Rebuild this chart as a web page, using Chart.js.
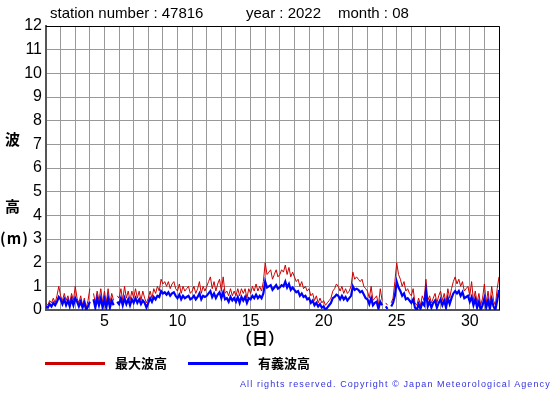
<!DOCTYPE html>
<html>
<head>
<meta charset="utf-8">
<script src="https://cdn.jsdelivr.net/npm/chart.js@4"></script>
<style>
  body { margin:0; background:#fff; }
  #wrap { position:relative; width:555px; height:395px; overflow:hidden; }
  #grafico { position:absolute; left:0; top:0; }
  .t { position:absolute; font-family:"Liberation Sans", Arial, sans-serif; color:#000; white-space:pre; }
  .jp { position:absolute; font-family:"Noto Sans CJK JP", sans-serif; color:#000; font-weight:bold; white-space:pre; }
  .linea { position:absolute; height:3px; }
  .copy { position:absolute; font-family:"Liberation Sans", Arial, sans-serif; font-size:9px; color:#3333dd; letter-spacing:1.1px; white-space:pre; }
</style>
</head>
<body>
<div id="wrap">
  <canvas id="grafico" width="555" height="395"></canvas>
  <div class="t" style="left:50px;top:4px;font-size:15px">station number : 47816</div>
  <div class="t" style="left:246px;top:4px;font-size:15px">year : 2022</div>
  <div class="t" style="left:338px;top:4px;font-size:15px">month : 08</div>
  <div class="jp" style="left:5px;top:128px;font-size:15px">波</div>
  <div class="jp" style="left:5px;top:195px;font-size:15px">高</div>
  <div class="jp" style="left:0px;top:227px;font-size:15px;letter-spacing:1px">(m)</div>
  <div class="jp" style="left:236px;top:325px;font-size:16px">（日）</div>
  <div class="linea" style="left:45px;top:362px;width:60px;background:#cc0000"></div>
  <div class="jp" style="left:115px;top:353px;font-size:13px">最大波高</div>
  <div class="linea" style="left:188px;top:362px;width:60px;background:#0000ff"></div>
  <div class="jp" style="left:258px;top:353px;font-size:13px">有義波高</div>
  <div class="copy" style="left:240px;top:379px">All rights reserved. Copyright © Japan Meteorological Agency</div>
</div>
<script>
// 3時間ごとの値 (8個 / 日), 8/1 00時 から 9/1 00時 まで
const intervaloHoras = 3
const diaInicio = 1
const diaFin = 32

// 最大波高 (m)
const maxWave = [
  0.3,0.2,0.4,0.3,0.5,0.3,0.6,1.0,
  0.6,0.4,0.7,0.4,0.6,0.3,0.7,0.4,
  1.0,0.5,0.3,0.6,0.2,0.5,0.1,0.4,
  0.9,null,0.7,0.3,0.8,0.4,0.9,0.3,
  0.8,0.3,0.9,0.3,0.7,0.4,null,0.6,
  0.5,0.9,0.4,1.0,0.5,0.8,0.4,0.8,
  0.5,0.9,0.5,0.8,0.4,0.8,0.5,0.3,
  0.5,0.8,0.5,0.9,0.7,1.0,0.8,1.3,
  1.1,1.2,1.0,1.2,0.9,1.1,1.2,0.9,
  0.8,1.1,0.7,1.0,0.8,0.9,1.0,0.7,
  0.8,1.0,0.7,0.9,1.2,0.7,1.0,0.8,
  1.0,1.2,1.4,0.9,1.2,0.8,1.1,1.3,
  0.8,1.4,0.7,0.8,0.6,0.9,0.6,0.8,
  0.6,0.9,0.6,0.9,0.7,0.9,0.5,0.9,
  0.7,1.0,0.8,1.1,0.8,1.0,0.8,1.2,
  2.0,1.5,1.6,1.7,1.3,1.5,1.7,1.4,
  1.5,1.7,1.6,1.9,1.5,1.8,1.4,1.6,
  1.4,1.2,1.3,1.0,1.2,0.9,1.0,0.8,
  0.9,0.6,0.7,0.4,0.6,0.3,0.5,0.3,
  0.4,0.2,0.3,0.4,0.5,0.8,0.9,1.1,
  1.0,0.8,1.0,0.7,0.9,0.7,0.8,1.0,
  1.6,1.3,1.4,1.3,1.2,1.3,1.0,0.9,
  0.8,0.5,1.0,0.4,0.5,0.6,0.2,0.9,
  0.4,null,0.3,0.2,null,0.3,0.5,1.2,
  2.0,1.5,1.3,1.0,1.2,0.8,0.9,0.7,
  0.6,0.9,0.3,0.2,0.5,0.2,0.6,0.4,
  1.3,0.4,0.6,0.3,0.5,0.7,0.3,0.6,
  0.8,0.4,0.7,0.3,0.9,0.5,0.9,1.2,
  1.4,1.1,1.3,1.0,1.2,0.8,0.9,1.0,
  0.6,1.2,0.4,0.8,0.3,0.7,0.2,0.5,
  1.1,0.3,0.8,0.2,1.0,0.4,0.2,0.9,
  1.4
]

// 有義波高 (m)
const sigWave = [
  0.15,0.1,0.25,0.15,0.3,0.2,0.35,0.55,
  0.45,0.25,0.45,0.2,0.4,0.15,0.45,0.2,
  0.5,0.35,0.15,0.35,0.1,0.3,0.0,0.15,
  0.35,null,0.45,0.1,0.5,0.2,0.5,0.1,
  0.45,0.1,0.5,0.1,0.4,0.2,null,0.35,
  0.25,0.5,0.2,0.5,0.25,0.45,0.2,0.45,
  0.3,0.5,0.3,0.45,0.25,0.4,0.3,0.1,
  0.3,0.5,0.35,0.55,0.45,0.6,0.55,0.8,
  0.7,0.75,0.65,0.75,0.6,0.7,0.75,0.6,
  0.5,0.65,0.45,0.6,0.5,0.55,0.6,0.45,
  0.5,0.6,0.45,0.55,0.7,0.45,0.6,0.55,
  0.6,0.7,0.8,0.55,0.7,0.5,0.65,0.75,
  0.5,0.75,0.45,0.5,0.35,0.55,0.4,0.5,
  0.35,0.55,0.3,0.55,0.4,0.55,0.3,0.5,
  0.45,0.6,0.5,0.65,0.5,0.6,0.5,0.7,
  1.2,0.95,1.0,1.05,0.85,0.95,1.05,0.9,
  0.95,1.05,1.0,1.2,0.95,1.1,0.85,0.95,
  0.85,0.75,0.8,0.6,0.7,0.55,0.6,0.45,
  0.5,0.3,0.4,0.2,0.3,0.15,0.25,0.1,
  0.15,0.0,0.1,0.2,0.3,0.5,0.55,0.65,
  0.6,0.45,0.6,0.45,0.55,0.4,0.5,0.6,
  1.0,0.85,0.9,0.85,0.75,0.8,0.65,0.5,
  0.45,0.25,0.5,0.2,0.3,0.35,0.05,0.35,
  0.2,null,0.15,0.05,null,0.15,0.3,0.6,
  1.2,0.95,0.8,0.6,0.7,0.45,0.5,0.4,
  0.3,0.45,0.1,0.0,0.25,0.05,0.3,0.2,
  0.8,0.15,0.35,0.1,0.3,0.4,0.1,0.3,
  0.45,0.2,0.4,0.1,0.5,0.25,0.5,0.7,
  0.8,0.7,0.8,0.6,0.75,0.5,0.55,0.6,
  0.35,0.55,0.2,0.45,0.1,0.35,0.0,0.2,
  0.5,0.1,0.4,0.05,0.45,0.15,0.0,0.4,
  0.85
]

// etiquetas del eje x (días) y del eje y (m)
const diasEtiqueta = [5, 10, 15, 20, 25, 30]
const yMin = 0
const yMax = 12

// pasa la serie a puntos {x: día, y: valor}
function aPuntos(serie){
  return serie.map((v, i) => ({ x: diaInicio + i * intervaloHoras / 24, y: v }))
}

// marco: arriba y derecha en negro
const marco = {
  id: 'marco',
  afterDraw(chart){
    const { ctx, chartArea: a } = chart
    ctx.save()
    ctx.strokeStyle = '#000'
    ctx.lineWidth = 1
    ctx.beginPath()
    ctx.moveTo(a.left, a.top + 0.5)
    ctx.lineTo(a.right + 0.5, a.top + 0.5)
    ctx.lineTo(a.right + 0.5, a.bottom)
    ctx.stroke()
    ctx.restore()
  }
}

const config = {
  type: 'line',
  data: {
    datasets: [
      {
        label: '有義波高',
        data: aPuntos(sigWave),
        borderColor: '#0000ff',
        borderWidth: 2.2,
        pointRadius: 0,
        spanGaps: false,
        tension: 0
      },
      {
        label: '最大波高',
        data: aPuntos(maxWave),
        borderColor: '#cc0000',
        borderWidth: 1,
        pointRadius: 0,
        spanGaps: false,
        tension: 0
      }
    ]
  },
  options: {
    responsive: false,
    animation: false,
    layout: { padding: { left: 0, top: 26, right: 56, bottom: 0 } },
    plugins: {
      legend: { display: false },
      title: { display: false },
      tooltip: { enabled: false }
    },
    scales: {
      x: {
        type: 'linear',
        min: diaInicio,
        max: diaFin,
        afterFit: s => { s.height = 85 },
        ticks: {
          stepSize: 1,
          autoSkip: false,
          maxRotation: 0,
          padding: 2,
          color: '#000',
          font: { family: 'Liberation Sans', size: 16 },
          callback: v => diasEtiqueta.includes(v) ? String(v) : ''
        },
        grid: { color: '#999', lineWidth: 1, drawTicks: false },
        border: { color: '#555', width: 2 }
      },
      y: {
        min: yMin,
        max: yMax,
        afterFit: s => { s.width = 46 },
        ticks: {
          stepSize: 1,
          padding: 4,
          color: '#000',
          font: { family: 'Liberation Sans', size: 16 }
        },
        grid: { color: '#999', lineWidth: 1, drawTicks: false },
        border: { color: '#555', width: 2 }
      }
    }
  },
  plugins: [marco]
}

new Chart(document.querySelector('#grafico'), config)
</script>
</body>
</html>
